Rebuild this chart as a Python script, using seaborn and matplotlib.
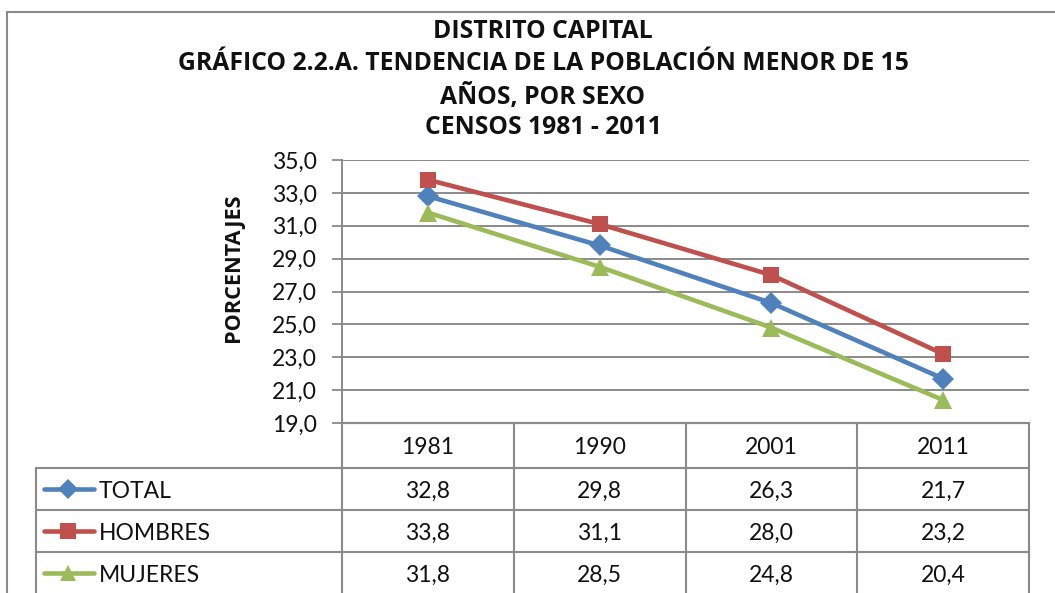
import matplotlib
matplotlib.use("Agg")
import matplotlib.pyplot as plt
import seaborn as sns
import pandas as pd
from matplotlib.lines import Line2D

years = ["1981", "1990", "2001", "2011"]
series_names = ["TOTAL", "HOMBRES", "MUJERES"]
total = [32.8, 29.8, 26.3, 21.7]
hombres = [33.8, 31.1, 28.0, 23.2]
mujeres = [31.8, 28.5, 24.8, 20.4]
yticks = [19, 21, 23, 25, 27, 29, 31, 33, 35]
title_lines = ["DISTRITO CAPITAL",
               "GRÁFICO 2.2.A. TENDENCIA DE LA POBLACIÓN MENOR DE 15",
               "AÑOS, POR SEXO",
               "CENSOS 1981 - 2011"]
ylabel = "PORCENTAJES"

colors = {"TOTAL": "#4F81BD", "HOMBRES": "#C0504D", "MUJERES": "#9BBB59"}
markers = {"TOTAL": "D", "HOMBRES": "s", "MUJERES": "^"}
msizes = {"TOTAL": 11, "HOMBRES": 12, "MUJERES": 13}

values = {"TOTAL": total, "HOMBRES": hombres, "MUJERES": mujeres}
rows = []
for s in series_names:
    for i, y in enumerate(years):
        rows.append({"pos": i, "year": y, "serie": s, "valor": values[s][i]})
df = pd.DataFrame(rows)

sns.set_theme(style="white")
plt.rcParams["font.family"] = ["Lato", "DejaVu Sans"]

W, H = 1055, 593
fig = plt.figure(figsize=(W / 100, H / 100), dpi=100)

def fx(px):
    return px / W

def fy(py):
    return 1 - py / H

TXT = "#111111"
FS = 16.5
L, R, T, B = 342, 1029, 160, 423
ax = fig.add_axes([fx(L), fy(B), fx(R - L), (B - T) / H])

sns.lineplot(data=df, x="pos", y="valor", hue="serie", hue_order=series_names,
             palette=colors, linewidth=3.3, legend=False, ax=ax, sort=False)
for line, s in zip(ax.get_lines(), series_names):
    line.set_marker(markers[s])
    line.set_markersize(msizes[s])
    line.set_markeredgewidth(0)
    line.set_markerfacecolor(colors[s])
    line.set_solid_capstyle("round")
    line.set_clip_on(False)

ax.set_xlim(-0.5, len(years) - 0.5)
ax.set_ylim(yticks[0], yticks[-1])
ax.set_yticks(yticks)
ax.set_yticklabels([f"{v:.1f}".replace(".", ",") for v in yticks], fontsize=FS, color=TXT)
ax.set_xticks([])
ax.set_xlabel("")
ax.set_ylabel("")
ax.grid(axis="y", color="#8a8a8a", linewidth=1.4)
for sp in ["top", "right"]:
    ax.spines[sp].set_visible(False)
ax.spines["left"].set_color("#8a8a8a")
ax.spines["left"].set_linewidth(1.4)
ax.spines["bottom"].set_color("#8a8a8a")
ax.spines["bottom"].set_linewidth(1.6)
ax.tick_params(axis="y", which="major", direction="out", length=7, width=1.3,
               color="#8a8a8a", left=True, pad=11)

fig.text(fx(233), fy(268), ylabel, rotation=90, ha="center", va="center",
         fontsize=15.6, fontweight="bold", color=TXT, family=["Open Sans", "DejaVu Sans"])

# title
for ty, t in zip([32, 63, 97, 128], title_lines):
    fig.text(fx(543), fy(ty), t, ha="center", va="center", fontsize=17.8,
             fontweight="bold", color=TXT, family=["Open Sans", "DejaVu Sans"])

# outer frame
gc = "#8a8a8a"
fig.add_artist(Line2D([fx(7), fx(7)], [fy(12), 0], color=gc, lw=1.5, transform=fig.transFigure))
fig.add_artist(Line2D([fx(7), 1], [fy(12), fy(12)], color=gc, lw=1.5, transform=fig.transFigure))

# data table below
colw = (R - L) / len(years)
col_edges = [L + i * colw for i in range(len(years) + 1)]
row_edges = [B, 468, 510, 552, 594]
TL = 36

def vline(x, y0, y1):
    fig.add_artist(Line2D([fx(x), fx(x)], [fy(y0), fy(y1)], color=gc, lw=1.5,
                          transform=fig.transFigure))

def hline(x0, x1, y):
    fig.add_artist(Line2D([fx(x0), fx(x1)], [fy(y), fy(y)], color=gc, lw=1.5,
                          transform=fig.transFigure))

for x in col_edges:
    vline(x, B, H)
vline(TL, row_edges[1], H)
for y in row_edges[1:4]:
    hline(TL, R, y)

for i, y in enumerate(years):
    cx = col_edges[i] + colw / 2
    fig.text(fx(cx), fy(448), y, ha="center", va="center", fontsize=FS, color=TXT)

row_y = [491, 533, 575]
for r, s in enumerate(series_names):
    cy = row_y[r]
    fig.add_artist(Line2D([fx(44), fx(94)], [fy(cy - 2), fy(cy - 2)], color=colors[s], lw=3.3,
                          solid_capstyle="round", transform=fig.transFigure))
    fig.add_artist(Line2D([fx(68)], [fy(cy - 2)], marker=markers[s], color=colors[s],
                          markersize=msizes[s] - 1, markeredgewidth=0, transform=fig.transFigure))
    fig.text(fx(99), fy(cy), s, ha="left", va="center", fontsize=FS, color=TXT)
    for i in range(len(years)):
        cx = col_edges[i] + colw / 2
        fig.text(fx(cx), fy(cy), f"{values[s][i]:.1f}".replace(".", ","), ha="center",
                 va="center", fontsize=FS, color=TXT)

fig.savefig("out.png", dpi=100, facecolor="white")
